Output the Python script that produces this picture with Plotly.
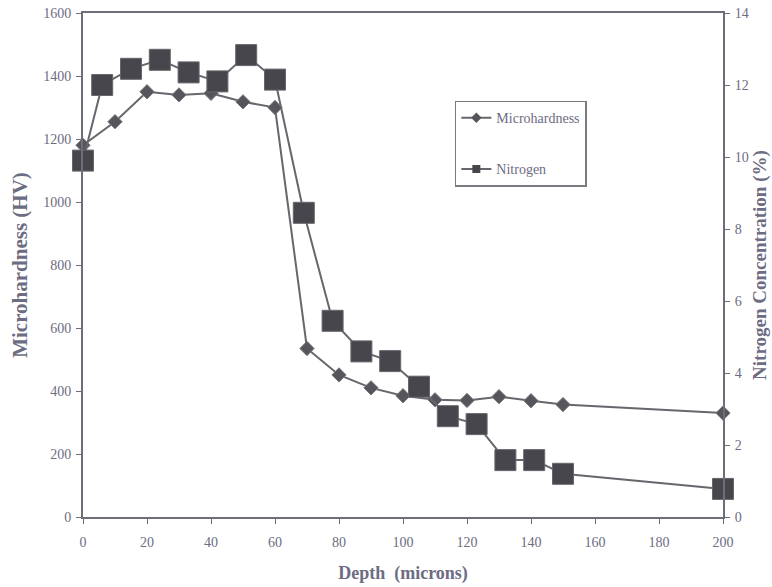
import plotly.graph_objects as go

# Microhardness (left axis, HV)
hard_depth = [0, 10, 20, 30, 40, 50, 60, 70, 80, 90, 100, 110, 120, 130, 140, 150, 200]
hard_hv = [1180, 1255, 1350, 1340, 1345, 1318, 1300, 535, 451, 410, 385, 372, 370, 382, 369, 357, 330]

# Nitrogen concentration (right axis, %)
nit_depth = [0, 6, 15, 24, 33, 42, 51, 60, 69, 78, 87, 96, 105, 114, 123, 132, 141, 150, 200]
nit_pct = [9.9, 12.0, 12.45, 12.7, 12.35, 12.1, 12.83, 12.15, 8.45, 5.45, 4.6, 4.33, 3.62, 2.8, 2.58, 1.58, 1.58, 1.2, 0.78]

x_ticks = list(range(0, 201, 20))
y_ticks = list(range(0, 1601, 200))
y2_ticks = list(range(0, 15, 2))

txt = "#6c6c82"
axc = "#6e6e78"
linec = "#66666c"
serif = "Liberation Serif, Times New Roman, serif"

fig = go.Figure()
fig.add_trace(go.Scatter(
    x=hard_depth, y=hard_hv, name="Microhardness", mode="lines+markers",
    showlegend=False, cliponaxis=False,
    line=dict(color=linec, width=2),
    marker=dict(symbol="diamond", size=11, color="#55555c",
                line=dict(color="#76767c", width=1)),
))
fig.add_trace(go.Scatter(
    x=nit_depth, y=nit_pct, name="Nitrogen", mode="lines+markers",
    showlegend=False, cliponaxis=False, yaxis="y2",
    line=dict(color=linec, width=2),
    marker=dict(symbol="square", size=21, color="#46464c",
                line=dict(color="#66666c", width=1)),
))
# legend entries (small markers as in the reference)
fig.add_trace(go.Scatter(
    x=[None], y=[None], name="Microhardness", mode="lines+markers",
    legendgroup="a",
    line=dict(color=linec, width=2),
    marker=dict(symbol="diamond", size=8, color="#55555c"),
))
fig.add_trace(go.Scatter(
    x=[None], y=[None], name="Nitrogen", mode="lines+markers",
    legendgroup="b",
    line=dict(color=linec, width=2),
    marker=dict(symbol="square", size=8, color="#46464c"),
))

fig.update_layout(
    width=772, height=587,
    margin=dict(l=83, r=49, t=13, b=70, autoexpand=False),
    paper_bgcolor="white", plot_bgcolor="white",
    font=dict(family=serif, size=14, color=txt),
    showlegend=True,
    legend=dict(
        x=0.581, y=0.826, xanchor="left", yanchor="top",
        bordercolor="#7a7a80", borderwidth=1.5, bgcolor="white",
        font=dict(family=serif, size=14, color=txt),
        tracegroupgap=30, entrywidth=95, entrywidthmode="pixels",
    ),
    xaxis=dict(
        range=[0, 200], tickvals=x_ticks, showgrid=False, zeroline=False,
        showline=True, linecolor=axc, linewidth=2, mirror=True,
        automargin=False,
        ticks="outside", ticklen=5, tickcolor=axc, ticklabelstandoff=6,
        tickfont=dict(family=serif, size=14, color=txt),
        title=dict(text="<b>Depth  (microns)</b>", standoff=18,
                   font=dict(family=serif, size=18, color=txt)),
    ),
    yaxis=dict(
        range=[0, 1600], tickvals=y_ticks, showgrid=False, zeroline=False,
        showline=True, linecolor=axc, linewidth=2, automargin=False,
        ticks="outside", ticklen=5, tickcolor=axc, ticklabelstandoff=2,
        tickfont=dict(family=serif, size=14, color=txt),
        title=dict(text="<b>Microhardness (HV)</b>", standoff=10,
                   font=dict(family=serif, size=21, color=txt)),
    ),
    yaxis2=dict(
        range=[0, 14], tickvals=y2_ticks, overlaying="y", side="right",
        showgrid=False, zeroline=False, automargin=False,
        showline=True, linecolor=axc, linewidth=2,
        ticks="outside", ticklen=5, tickcolor=axc, ticklabelstandoff=2,
        tickfont=dict(family=serif, size=14, color=txt),
        title=dict(text="<b>Nitrogen Concentration (%)</b>", standoff=3,
                   font=dict(family=serif, size=19, color=txt)),
    ),
)

fig.write_html("out.html")
